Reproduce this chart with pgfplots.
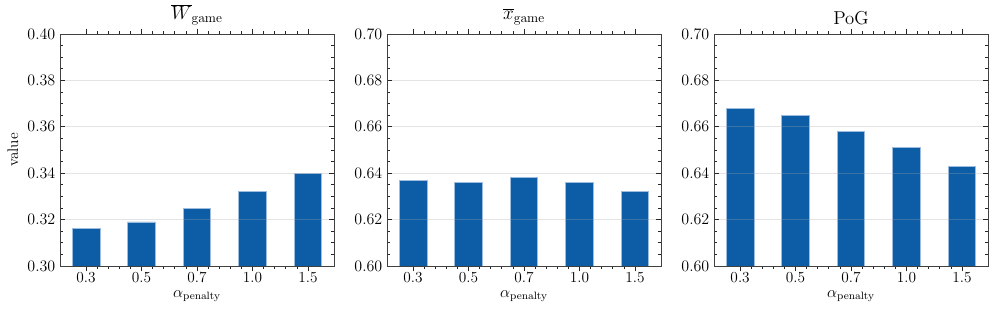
\documentclass[border=0pt]{standalone}
\usepackage{pgfplots}
\pgfplotsset{compat=1.18}
\usepgfplotslibrary{groupplots}
\definecolor{barblue}{HTML}{0C5DA5}
\definecolor{baredge}{HTML}{9DBCE0}
\pgfplotsset{
  panel/.style={
    scale only axis, width=205.5pt, height=174pt,
    xmin=-0.47, xmax=4.47,
    xtick={0,1,2,3,4}, xticklabels={0.3,0.5,0.7,1.0,1.5},
    minor x tick num=4,
    minor y tick num=3,
    tick align=inside, xtick pos=both, ytick pos=both,
    major tick length=4pt, minor tick length=2pt,
    ymajorgrids, grid style={black!35, opacity=0.3, line width=0.5pt},
    axis line style={black!75, line width=0.6pt},
    tick style={black!85, line width=0.5pt},
    axis on top,
    ybar, bar width=0.5,
    yticklabel style={/pgf/number format/.cd, fixed, fixed zerofill, precision=2},
    tick label style={font=\fontsize{11.5}{13}\selectfont},
    xticklabel style={yshift=3pt},
    title style={font=\fontsize{14}{16}\selectfont, yshift=-3pt},
    label style={font=\fontsize{11.5}{13}\selectfont},
    xlabel={$\alpha_{\mathrm{penalty}}$},
    xlabel style={yshift=1pt},
  },
  barstyle/.style={fill=barblue, draw=baredge, line width=0.6pt},
}
\begin{document}
\begin{tikzpicture}
\useasboundingbox (-45pt,-34.5pt) rectangle (702.75pt,199.5pt);
\begin{groupplot}[group style={group size=3 by 1, horizontal sep=39.75pt}, panel]
\nextgroupplot[
  ymin=0.30, ymax=0.40, ytick={0.30,0.32,0.34,0.36,0.38,0.40},
  title={$\overline{W}_{\mathrm{game}}$}, ylabel={value}]
\addplot[barstyle] coordinates {(0,0.316) (1,0.319) (2,0.325) (3,0.332) (4,0.340)};
\nextgroupplot[
  ymin=0.60, ymax=0.70, ytick={0.60,0.62,0.64,0.66,0.68,0.70},
  title={$\overline{x}_{\mathrm{game}}$}]
\addplot[barstyle] coordinates {(0,0.637) (1,0.636) (2,0.638) (3,0.636) (4,0.632)};
\nextgroupplot[
  ymin=0.60, ymax=0.70, ytick={0.60,0.62,0.64,0.66,0.68,0.70},
  title={PoG}]
\addplot[barstyle] coordinates {(0,0.668) (1,0.665) (2,0.658) (3,0.651) (4,0.643)};
\end{groupplot}
\end{tikzpicture}
\end{document}
